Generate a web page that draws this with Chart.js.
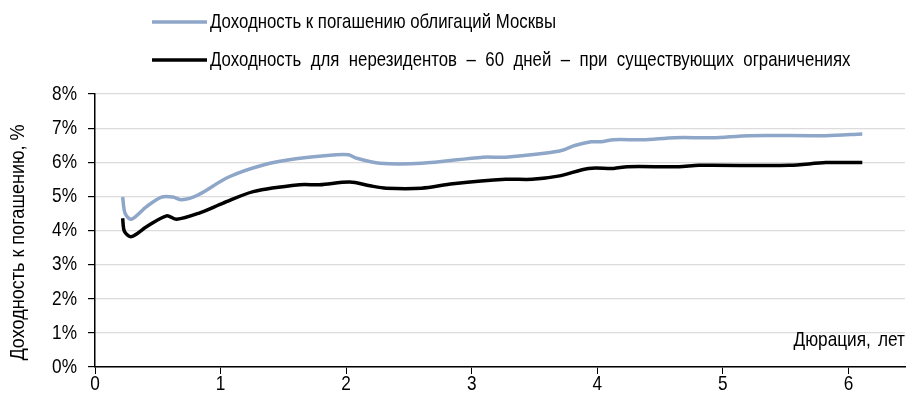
<!DOCTYPE html>
<html lang="ru">
<head>
    <meta charset="UTF-8">
    <title>Доходность облигаций Москвы</title>
    <script src="https://cdn.jsdelivr.net/npm/chart.js"></script>
    <style>
        html, body { margin: 0; padding: 0; background: #fff; }
        #wrap { width: 908px; height: 410px; position: relative; }
    </style>
</head>
<body>
    <div id="wrap"><canvas id="yieldChart"></canvas></div>

    <script>
        // Moscow bonds yield to maturity
        const durationsMoscow = [0.22, 0.24, 0.29, 0.41, 0.53, 0.62, 0.69, 0.82, 1.06, 1.34, 1.60, 1.92, 2.02, 2.08, 2.27, 2.60, 3.09, 3.27, 3.70, 3.82, 3.95, 4.03, 4.13, 4.36, 4.62, 4.92, 5.21, 5.82, 6.11];
        const yieldsMoscow = [4.98, 4.50, 4.33, 4.70, 4.98, 4.98, 4.90, 5.04, 5.56, 5.92, 6.10, 6.22, 6.22, 6.12, 5.97, 5.97, 6.15, 6.15, 6.33, 6.49, 6.60, 6.60, 6.66, 6.66, 6.72, 6.72, 6.78, 6.78, 6.83];

        // Non-resident yield, 60 days, under current restrictions
        const durationsNonRes = [0.22, 0.235, 0.29, 0.41, 0.57, 0.65, 0.83, 1.02, 1.26, 1.63, 1.79, 2.03, 2.19, 2.32, 2.60, 2.85, 3.27, 3.48, 3.70, 3.93, 4.13, 4.24, 4.65, 4.81, 5.53, 5.82, 6.11];
        const yieldsNonRes = [4.36, 3.97, 3.82, 4.11, 4.43, 4.33, 4.51, 4.80, 5.14, 5.34, 5.34, 5.42, 5.31, 5.24, 5.24, 5.37, 5.50, 5.50, 5.60, 5.82, 5.82, 5.87, 5.87, 5.91, 5.91, 5.99, 5.99];

        const seriesLabels = [
            'Доходность к погашению облигаций Москвы',
            'Доходность для нерезидентов – 60 дней – при существующих ограничениях'
        ];
        const xTicks = [0, 1, 2, 3, 4, 5, 6];
        const xAxisLabel = 'Дюрация, лет';
        const yAxisLabel = 'Доходность к погашению, %';

        const FONT = "'Liberation Sans', Arial, sans-serif";
        const colors = ['#8ea6c8', '#000000'];

        function toPoints(xs, ys) {
            return xs.map((x, i) => ({ x: x, y: ys[i] }));
        }

        // narrow text: regular font squeezed horizontally (looks like Arial Narrow)
        function narrowText(ctx, text, x, y, align, size, squeeze, angle, wordGap) {
            ctx.save();
            ctx.translate(x, y);
            if (angle) ctx.rotate(angle);
            ctx.scale(squeeze, 1);
            ctx.font = size + 'px ' + FONT;
            if (wordGap) ctx.wordSpacing = wordGap + 'px';
            ctx.textAlign = align;
            ctx.textBaseline = 'middle';
            ctx.fillStyle = '#000';
            ctx.fillText(text, 0, 0);
            ctx.restore();
        }

        const textPlugin = {
            id: 'texts',
            afterDraw(chart) {
                const ctx = chart.ctx;
                const area = chart.chartArea;
                const xs = chart.scales.x;
                const ys = chart.scales.y;

                // legend
                const rows = [22, 60];
                const gaps = [0, 6];
                seriesLabels.forEach((label, i) => {
                    ctx.save();
                    ctx.strokeStyle = colors[i];
                    ctx.lineWidth = 3.5;
                    ctx.beginPath();
                    ctx.moveTo(152, rows[i]);
                    ctx.lineTo(207, rows[i]);
                    ctx.stroke();
                    ctx.restore();
                    narrowText(ctx, label, 210, rows[i], 'left', 21, 0.8, 0, gaps[i]);
                });

                // tick labels
                ys.ticks.forEach(t => {
                    narrowText(ctx, t.value + '%', xs.left - 18, ys.getPixelForValue(t.value), 'right', 21, 0.82);
                });
                xs.ticks.forEach(t => {
                    narrowText(ctx, String(t.value), xs.getPixelForValue(t.value), 384, 'center', 21, 0.82);
                });

                // axis titles
                narrowText(ctx, yAxisLabel, 18, (area.top + area.bottom) / 2 + 12, 'center', 21, 0.86, -Math.PI / 2);
                narrowText(ctx, xAxisLabel, area.right, 340, 'right', 21, 0.82, 0, 3);
            }
        };

        new Chart(document.getElementById('yieldChart'), {
            type: 'line',
            data: {
                datasets: [
                    {
                        label: seriesLabels[0],
                        data: toPoints(durationsMoscow, yieldsMoscow),
                        borderColor: colors[0],
                        borderWidth: 3.5,
                        pointRadius: 0,
                        tension: 0.3
                    },
                    {
                        label: seriesLabels[1],
                        data: toPoints(durationsNonRes, yieldsNonRes),
                        borderColor: colors[1],
                        borderWidth: 3.5,
                        pointRadius: 0,
                        tension: 0.3
                    }
                ]
            },
            options: {
                responsive: true,
                maintainAspectRatio: false,
                animation: false,
                layout: { padding: { top: 94, right: 3, left: 0, bottom: 0 } },
                plugins: {
                    legend: { display: false },
                    tooltip: { enabled: false }
                },
                scales: {
                    x: {
                        type: 'linear',
                        min: 0,
                        max: 6.45,
                        afterBuildTicks: (axis) => { axis.ticks = xTicks.map(v => ({ value: v })); },
                        afterFit: (axis) => { axis.height = 43; },
                        border: { color: '#000', width: 1.5 },
                        grid: { drawOnChartArea: false, drawTicks: true, tickLength: 7, tickColor: '#000' },
                        ticks: { color: 'rgba(0,0,0,0)', font: { family: FONT, size: 15 } }
                    },
                    y: {
                        min: 0,
                        max: 8,
                        afterFit: (axis) => { axis.width = 95; },
                        border: { color: '#000', width: 1.5 },
                        grid: { color: '#dcdcdc', lineWidth: 1.2, tickLength: 7, tickColor: '#000' },
                        ticks: {
                            stepSize: 1,
                            color: 'rgba(0,0,0,0)',
                            font: { family: FONT, size: 15 },
                            callback: (v) => v + '%'
                        }
                    }
                }
            },
            plugins: [textPlugin]
        });
    </script>
</body>
</html>
